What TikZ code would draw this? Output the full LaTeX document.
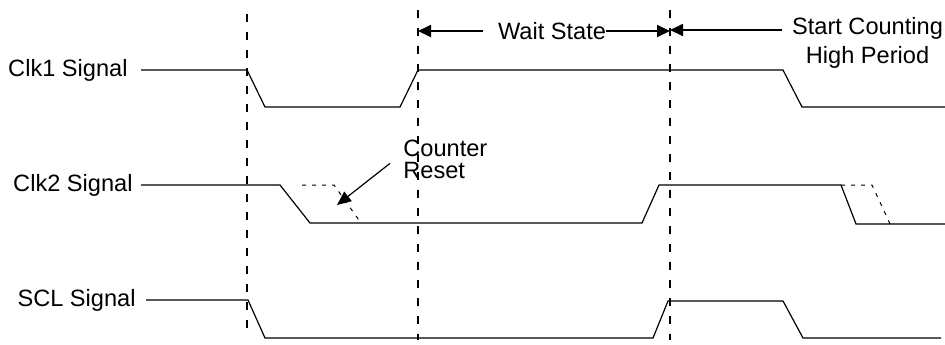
\documentclass[tikz,border=0pt]{standalone}
\usepackage{fontspec}
\setmainfont{Liberation Sans}
\usepackage{tikz}
\usetikzlibrary{positioning, arrows.meta, calc}

\begin{document}
\begin{tikzpicture}[
            x=0.5pt, y=-0.5pt,
            every node/.style={font=\fontsize{11.8}{14.5}\selectfont, inner sep=0pt},
            % Definición de estilos para las señales
            signal/.style={line width=0.6pt, black},
            marker/.style={line width=1.2pt, dash pattern=on 4pt off 5pt},
            ghost/.style={line width=0.5pt, dash pattern=on 2pt off 3pt},
            arrow/.style={line width=0.9pt, -{Triangle[length=6.5pt, width=6pt]}},
            note/.style={line width=0.6pt, -{Triangle[length=7pt, width=6pt]}}
        ]

            \useasboundingbox (0,0) rectangle (945,344);

            % Líneas de referencia
            \draw [marker] (247,14) -- (247,336);
            \draw [marker] (418,10) -- (418,340);
            \draw [marker] (670,10) -- (670,340);
            \coordinate (ma) at (418,31);
            \coordinate (mb) at (670,31);
            \coordinate (mc) at (670,30);

            % Señales
            \coordinate (c1) at (141,70);
            \coordinate (c2) at (141,185);
            \coordinate (c3) at (146,300);
            \draw [signal] (c1) -- (247,70) -- (265,107) -- (400,107) -- (418,70) -- (783,70) -- (802,107) -- (945,107);
            \draw [signal] (c2) -- (280,185) -- (310,223) -- (642,223) -- (659,185) -- (841,185) -- (856,224) -- (945,224);
            \draw [signal] (c3) -- (248,300) -- (265,338) -- (653,338) -- (668,301) -- (783,301) -- (803,338) -- (941,338);
            \draw [ghost] (302,185) -- (334,185) -- (361,223);
            \draw [ghost] (841,185) -- (872,185) -- (891,226);

            % Nodos
            \node (clkone) [left=6.5pt of c1] {Clk1 Signal};
            \node (clktwo) [left=4pt of c2] {Clk2 Signal};
            \node (scl) [left=5pt of c3] {SCL Signal};

            \node (wait) at (552,31) {Wait State};
            \node (count) [align=center, anchor=north] at (867.5,17) {Start Counting\\High Period};
            \node (reset) [align=left, anchor=north west, font=\fontsize{11.8}{10.6}\selectfont] at (403,140) {Counter\\Reset};
            \coordinate (rs) at (337,205);

            % Conexiones (Flechas)
            \draw [arrow] (wait.west) ++(-15,0) -- (ma);
            \draw [arrow] (wait.east) -- (mb);
            \draw [arrow] (count.west |- mc) ++(-10,0) -- (mc);
            \draw [note] (reset.west) ++(-13,4) -- (rs);

        \end{tikzpicture}
\end{document}
